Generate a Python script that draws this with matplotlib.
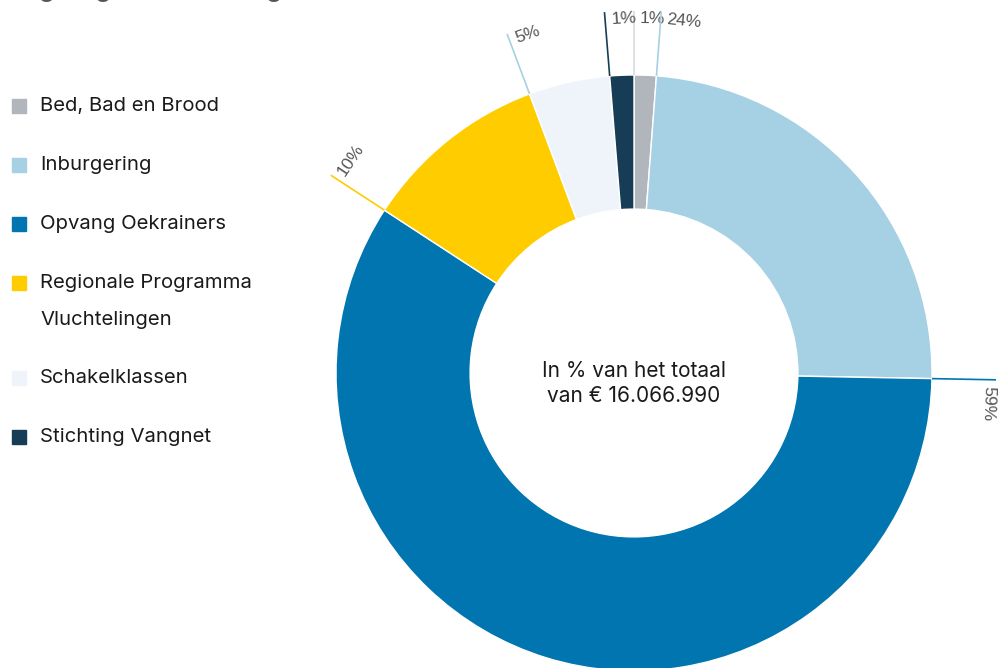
import numpy as np
import matplotlib
matplotlib.use("Agg")
import matplotlib.pyplot as plt
from matplotlib.patches import Rectangle

# data (share of total, %)
categories = ["Bed, Bad en Brood", "Inburgering", "Opvang Oekrainers",
              "Regionale Programma\nVluchtelingen", "Schakelklassen", "Stichting Vangnet"]
shares = [1.2, 24.1, 58.9, 10.1, 4.4, 1.3]
pct_labels = ["1%", "24%", "59%", "10%", "5%", "1%"]
colors = ["#B1B6BC", "#A6D0E4", "#0075AF", "#FFCC00", "#EEF4F9", "#173C56"]
line_colors = ["#D6DCE2", "#A6D0E4", "#0075AF", "#FFCC00", "#A6D0E4", "#173C56"]

W, H = 1002, 668
cx, cy, R = 634, 373, 298

fig = plt.figure(figsize=(W / 100, H / 100), dpi=100)
ax = fig.add_axes([0, 0, 1, 1])

ax.pie(shares, colors=colors, startangle=90, counterclock=False, radius=1.0,
       wedgeprops=dict(width=0.45, edgecolor="white", linewidth=1))

ax.set_xlim((0 - cx) / R, (W - cx) / R)
ax.set_ylim((cy - H) / R, (cy - 0) / R)
ax.set_aspect("auto")
ax.axis("off")

# leader lines and tangential labels at the start of each wedge
cum = np.concatenate([[0], np.cumsum(shares)[:-1]]) / sum(shares)
for c, lab, lc in zip(cum, pct_labels, line_colors):
    th = np.deg2rad(90 - c * 360)
    ax.plot([np.cos(th), 1.215 * np.cos(th)], [np.sin(th), 1.215 * np.sin(th)],
            color=lc, lw=1.2, solid_capstyle="butt", zorder=3)
    tt = th - np.deg2rad(1.0)
    rot = np.rad2deg(tt) - 90
    ax.text(1.19 * np.cos(tt), 1.19 * np.sin(tt), lab, rotation=rot,
            rotation_mode="anchor", ha="left", va="center",
            fontsize=12.5, color="#555555", family="Liberation Sans")

ax.text(0, -0.034, "In % van het totaal\nvan € 16.066.990", ha="center", va="center",
        fontsize=15, color="#1a1a1a", family="Inter", linespacing=1.3)

# legend drawn by hand
rows_y = [106, 165, 224, 283, 378, 437]
for name, col, y in zip(categories, colors, rows_y):
    fig.patches.append(Rectangle((12 / W, 1 - (y + 7) / H), 14 / W, 14 / H,
                                 transform=fig.transFigure, color=col))
    for k, line in enumerate(name.split("\n")):
        fig.text(40 / W, 1 - (y + 37 * k) / H, line, ha="left", va="center",
                 fontsize=14.6, color="#1a1a1a", family="Inter")

# title, mostly cut off at the top edge (as in the reference)
fig.text(10 / W, 1 + 3 / H, "Regelingen asiel en migratie", ha="left", va="baseline",
         fontsize=17, fontweight="bold", color="#555555", family="Inter")

fig.savefig("out.png", dpi=100)
